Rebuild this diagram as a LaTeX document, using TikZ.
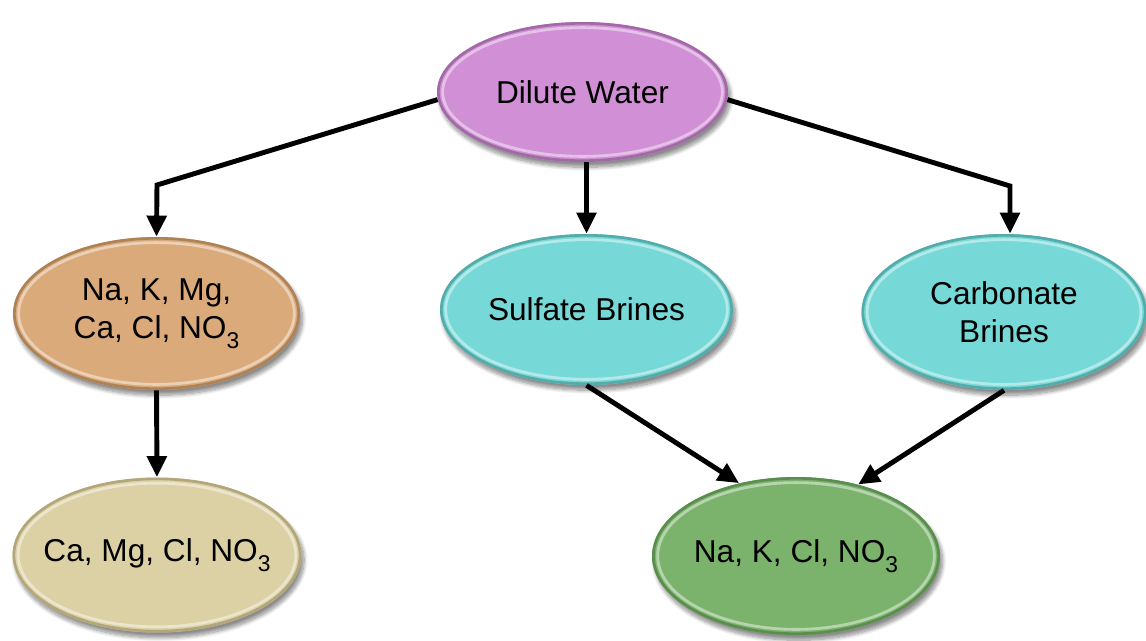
\documentclass[tikz,border=0pt]{standalone}
\usepackage{fontspec}
\setmainfont{Liberation Sans}
\usetikzlibrary{shapes.geometric,arrows.meta,shadows.blur,calc}
\newcommand{\sbt}{\raisebox{-0.32em}{\fontsize{13}{13}\selectfont 3}}
\definecolor{cPurple}{HTML}{D18FD6}
\definecolor{cPurpleD}{HTML}{A06AA5}
\definecolor{cOrange}{HTML}{DAAA7B}
\definecolor{cOrangeD}{HTML}{AE8257}
\definecolor{cCyan}{HTML}{76D9D7}
\definecolor{cCyanD}{HTML}{55ABA9}
\definecolor{cKhaki}{HTML}{DCD1A4}
\definecolor{cKhakiD}{HTML}{B2A67A}
\definecolor{cGreen}{HTML}{7BB36D}
\definecolor{cGreenD}{HTML}{5A8D4E}
\tikzset{
  bub/.style n args={2}{ellipse, inner sep=0pt, fill=#1, align=center,
    font=\fontsize{18}{21.5}\selectfont, text=black,
    blur shadow={shadow xshift=1.5pt, shadow yshift=-3pt, shadow blur steps=10, shadow opacity=45},
    path picture={
      \draw[#2, line width=3pt] let \p1=($(path picture bounding box.north east)-(path picture bounding box.center)$) in
        (path picture bounding box.center) ellipse [x radius=\x1, y radius=\y1];
      \draw[white, opacity=0.45, line width=1.6pt] let \p1=($(path picture bounding box.north east)-(path picture bounding box.center)$) in
        (path picture bounding box.center) ellipse [x radius=\x1-3.2pt, y radius=\y1-3.2pt];
    }},
  conn/.style={line width=2.8pt, black, line join=miter, -{Triangle[length=12pt,width=11pt]}}
}
\begin{document}
\begin{tikzpicture}[x=0.02cm, y=-0.02cm]
\useasboundingbox (0,0) rectangle (1146,640);
\node[bub={cPurple}{cPurpleD}, minimum width=5.82cm, minimum height=2.80cm] (dw) at (582.5,92) {\makebox[0pt]{Dilute Water}};
\node[bub={cOrange}{cOrangeD}, minimum width=5.74cm, minimum height=3.06cm] (nk) at (156.5,313.5) {Na, K, Mg,\\Ca, Cl, NO\sbt};
\node[bub={cCyan}{cCyanD}, minimum width=5.86cm, minimum height=3.02cm] (sb) at (586.5,309.5) {\makebox[0pt]{Sulfate Brines}};
\node[bub={cCyan}{cCyanD}, minimum width=5.70cm, minimum height=3.12cm] (cb) at (1004,312) {Carbonate\\Brines};
\node[bub={cKhaki}{cKhakiD}, minimum width=5.78cm, minimum height=3.10cm] (cm) at (157,555) {\makebox[0pt]{Ca, Mg, Cl, NO\sbt}};
\node[bub={cGreen}{cGreenD}, minimum width=5.76cm, minimum height=3.16cm] (nc) at (796,556) {\makebox[0pt]{Na, K, Cl, NO\sbt}};
\coordinate (bl) at (157,185);
\coordinate (br) at (1010,186);
\draw[conn] (dw.183) -- (bl) -- (nk.north);
\draw[conn] (dw.357) -- (br) -- (br |- cb.north);
\draw[conn] (sb.north |- dw.south) -- (sb.north);
\draw[conn] (nk.south) -- (cm.north);
\draw[conn] (sb.south) -- (nc.128);
\draw[conn] (cb.south) -- (nc.49);
\end{tikzpicture}
\end{document}
